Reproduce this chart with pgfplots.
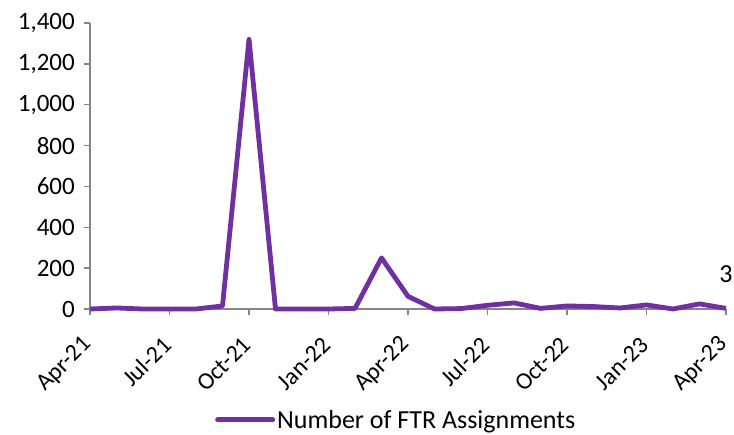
\documentclass[border=0pt]{standalone}
\usepackage{pgfplots}
\pgfplotsset{compat=1.18}
\usepackage{fontspec}
\setmainfont{Carlito}
\definecolor{ftr}{HTML}{7030A0}
\definecolor{axgray}{HTML}{868686}
\begin{document}
\begin{tikzpicture}
\begin{axis}[
  scale only axis,
  width=636bp, height=286bp,
  xmin=0, xmax=24, ymin=0, ymax=1400,
  axis x line=bottom, axis y line=left,
  axis line style={axgray, line width=1.5bp, -},
  xtick={0,3,...,24},
  xticklabels={Apr-21,Jul-21,Oct-21,Jan-22,Apr-22,Jul-22,Oct-22,Jan-23,Apr-23},
  ytick={0,200,...,1400},
  tick style={axgray, line width=1.5bp},
  tick align=outside,
  major tick length=6bp,
  xticklabel style={yshift=-26bp, xshift=-2bp, rotate=45, anchor=east, inner sep=0bp, font=\fontsize{24bp}{26bp}\selectfont},
  yticklabel style={xshift=-6bp, inner sep=3bp, font=\fontsize{25bp}{28bp}\selectfont},
  /pgf/number format/assume math mode=true,
  /pgf/number format/1000 sep={,},
  scaled y ticks=false,
  clip=false,
  legend style={at={(0.1965,-0.388)}, anchor=west, draw=none, fill=none, inner sep=0bp,
    font=\fontsize{26bp}{28bp}\selectfont},
  legend image code/.code={\draw[#1, line width=5bp, line cap=round] (0bp,0bp) -- (55bp,0bp);},
  legend cell align=left,
]
\addplot[ftr, line width=4.8bp, line join=round] coordinates {
(0,0) (1,5) (2,0) (3,0) (4,0) (5,15) (6,1320) (7,0) (8,0) (9,0) (10,3)
(11,250) (12,62) (13,0) (14,2) (15,18) (16,30) (17,3) (18,15) (19,12) (20,5)
(21,20) (22,0) (23,25) (24,3)
};
\addlegendentry{Number of FTR Assignments}
\node[anchor=base, font=\fontsize{26bp}{28bp}\selectfont] at (axis cs:24,3) [yshift=26bp] {3};
\end{axis}
\pgfresetboundingbox
\path[use as bounding box] (-90bp,-126bp) rectangle (644bp,309bp);
\end{tikzpicture}
\end{document}
